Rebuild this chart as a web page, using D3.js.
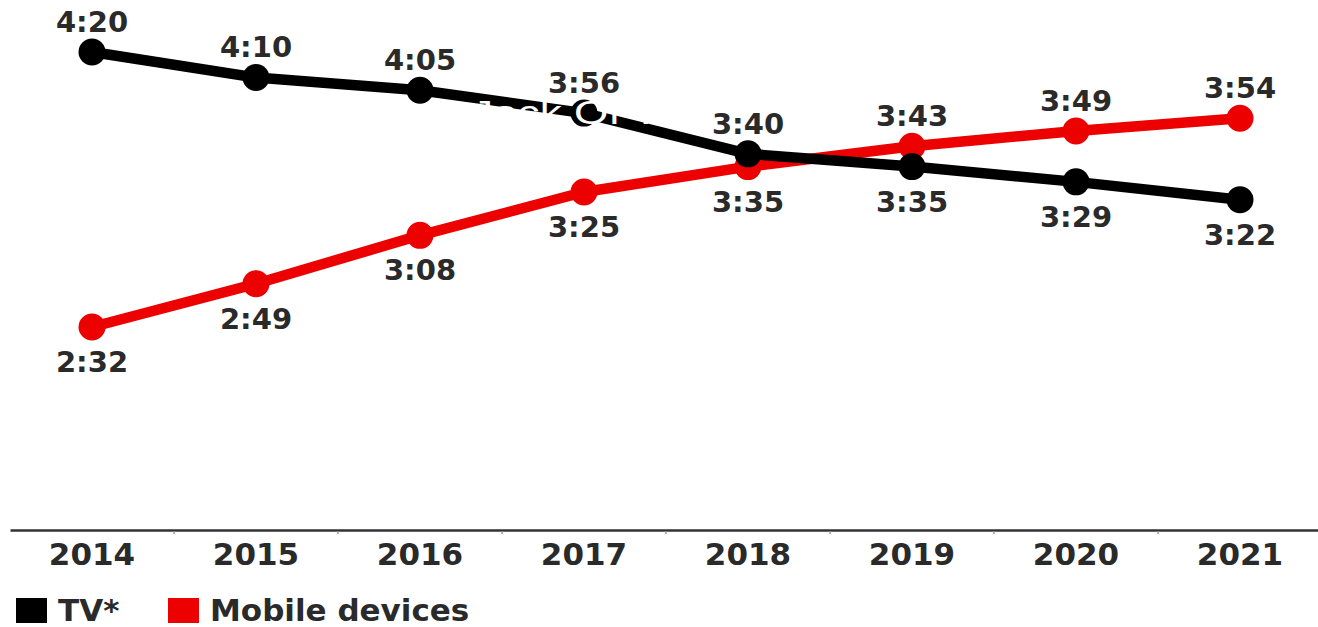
<!DOCTYPE html>
<meta charset="utf-8">
<script src="https://d3js.org/d3.v7.min.js"></script>
<style>
  body { margin: 0; background: #fff; }
  svg { display: block; }
</style>
<div id="chart"></div>
<script>

// data, minutes per day
const years = ["2014", "2015", "2016", "2017", "2018", "2019", "2020", "2021"];
const tvMinutes = [260, 250, 245, 236, 220, 215, 209, 202];
const mobileMinutes = [152, 169, 188, 205, 215, 223, 229, 234];
// which side of the dot the value label sits
const tvLabelSide = ["above", "above", "above", "above", "above", "below", "below", "below"];
const mobileLabelSide = ["below", "below", "below", "below", "below", "above", "above", "above"];
const legendLabels = ["TV*", "Mobile devices"];

const width = 1318, height = 627;
const labelColor = "#2a2a2a";
const red = "#ec0000";

const svg = d3.select("#chart")
  .append("svg")
    .attr("width", width)
    .attr("height", height);

const x = d3.scaleBand()
    .domain(years)
    .range([10, 1322])
    .padding(0);

const y = d3.scaleLinear()
    .domain([152, 260])
    .range([327, 52]);

const fmt = m => Math.floor(m / 60) + ":" + String(m % 60).padStart(2, "0");
const cx = d => x(d) + x.bandwidth() / 2;

// x axis
const axisY = 530;
const xAxis = svg.append("g")
    .attr("transform", `translate(0,${axisY})`)
    .call(d3.axisBottom(x).tickSize(0).tickSizeOuter(0).tickPadding(13));
xAxis.select(".domain")
    .attr("stroke", "#333")
    .attr("stroke-width", 2.5);
xAxis.selectAll("text")
    .attr("fill", labelColor)
    .style("font-family", "'DejaVu Sans', sans-serif")
    .style("font-weight", "bold")
    .style("font-size", "31px");

// little separators between the years
xAxis.selectAll(".sep")
  .data(years.slice(1))
  .join("line")
    .attr("class", "sep")
    .attr("x1", d => x(d))
    .attr("x2", d => x(d))
    .attr("y1", 1)
    .attr("y2", 4)
    .attr("stroke", "#999")
    .attr("stroke-width", 1.5);

const series = [
  {name: legendLabels[0], values: tvMinutes, side: tvLabelSide, color: "#000"},
  {name: legendLabels[1], values: mobileMinutes, side: mobileLabelSide, color: red}
];

const line = d3.line()
    .x((d, i) => cx(years[i]))
    .y(d => y(d));

// mobile first so that the TV line sits on top where they cross
const drawOrder = [series[1], series[0]];

drawOrder.forEach(s => {
  svg.append("path")
      .datum(s.values)
      .attr("fill", "none")
      .attr("stroke", s.color)
      .attr("stroke-width", 10.5)
      .attr("stroke-linejoin", "round")
      .attr("d", line);

  svg.selectAll(null)
    .data(s.values)
    .join("circle")
      .attr("cx", (d, i) => cx(years[i]))
      .attr("cy", d => y(d))
      .attr("r", 13.5)
      .attr("fill", s.color);
});

series.forEach(s => {
  svg.selectAll(null)
    .data(s.values)
    .join("text")
      .attr("x", (d, i) => cx(years[i]))
      .attr("y", (d, i) => s.side[i] === "above" ? y(d) - 20 : y(d) + 45)
      .attr("text-anchor", "middle")
      .attr("fill", labelColor)
      .style("font-family", "'DejaVu Sans', sans-serif")
      .style("font-weight", "bold")
      .style("font-size", "29px")
      .text(d => fmt(d));
});

// white caption text bleeding over the chart
svg.append("text")
    .attr("x", 434)
    .attr("y", 124)
    .attr("fill", "#fff")
    .attr("textLength", 245)
    .attr("lengthAdjust", "spacingAndGlyphs")
    .style("font-family", "'Liberation Sans', Arial, sans-serif")
    .style("font-size", "33px")
    .text("e Jack Of Ta");

// legend
const legend = svg.append("g");
const legendX = [16, 168];
series.forEach((s, i) => {
  legend.append("rect")
      .attr("x", legendX[i])
      .attr("y", 598)
      .attr("width", 31)
      .attr("height", 25)
      .attr("fill", s.color);
  legend.append("text")
      .attr("x", legendX[i] + 42)
      .attr("y", 621)
      .attr("fill", labelColor)
      .style("font-family", "'DejaVu Sans', sans-serif")
      .style("font-weight", "bold")
      .style("font-size", "31px")
      .text(s.name);
});

</script>
